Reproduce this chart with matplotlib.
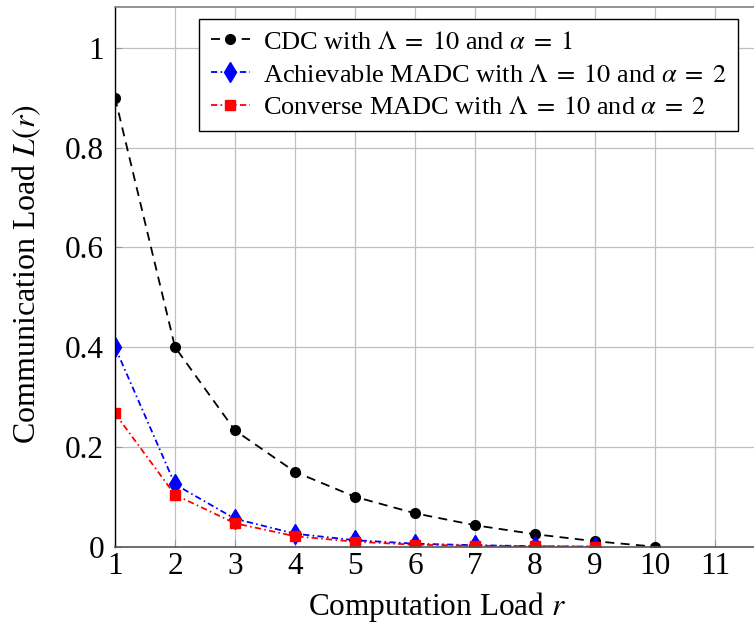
import matplotlib
matplotlib.use("Agg")
import matplotlib.pyplot as plt

# data
r_cdc = [1, 2, 3, 4, 5, 6, 7, 8, 9, 10]
L_cdc = [0.9, 0.4, 0.233, 0.15, 0.1, 0.067, 0.043, 0.025, 0.011, 0.0]

r_madc = [1, 2, 3, 4, 5, 6, 7, 8, 9]
L_ach = [0.4, 0.125, 0.056, 0.026, 0.013, 0.006, 0.003, 0.001, 0.0]
L_conv = [0.267, 0.104, 0.047, 0.021, 0.010, 0.004, 0.002, 0.001, 0.0]

labels = [r"CDC with $\Lambda\;=\;10$ and $\alpha\;=\;1$",
          r"Achievable MADC with $\Lambda\;=\;10$ and $\alpha\;=\;2$",
          r"Converse MADC with $\Lambda\;=\;10$ and $\alpha\;=\;2$"]

plt.rcParams['font.family'] = ['Liberation Serif', 'DejaVu Serif']
plt.rcParams['mathtext.fontset'] = 'stix'

fig = plt.figure(figsize=(7.54, 6.26), dpi=100)
# axes box measured in pixels from the reference
ax = fig.add_axes([115/754, 1 - 546.7/626, (754-115)/754, (546.7-7.3)/626])

ax.plot(r_cdc, L_cdc, color='black', linestyle=(0, (5, 3.5)), linewidth=1.3,
        marker='o', markersize=7, label=labels[0])
ax.plot(r_madc, L_ach, color='blue', linestyle=(0, (3.5, 1.8, 0.9, 1.8)), linewidth=1.3,
        marker='d', markersize=10, label=labels[1])
ax.plot(r_madc, L_conv, color='red', linestyle=(0, (3.5, 1.8, 0.9, 1.8)), linewidth=1.3,
        marker='s', markersize=6.5, label=labels[2])

ax.set_xlim(1, 11.65)
ax.set_ylim(0, 1.081)
ax.set_xticks(range(1, 12))
ax.set_yticks([0, 0.2, 0.4, 0.6, 0.8, 1.0])
ax.set_yticklabels(['0', '0.2', '0.4', '0.6', '0.8', '1'])
ax.grid(True, color='#c0c0c0', linewidth=0.9)
ax.set_axisbelow(True)
ax.tick_params(direction='in', length=5, color='#999999', labelsize=22.5)
ax.tick_params(axis='x', pad=4)
ax.tick_params(axis='y', pad=8)

ax.spines['right'].set_visible(False)
ax.spines['top'].set_color('#808080')
ax.spines['top'].set_linewidth(1.2)
ax.spines['bottom'].set_color('#555555')
ax.spines['bottom'].set_linewidth(1.2)
ax.spines['left'].set_color('black')
ax.spines['left'].set_linewidth(1.0)
for s in ax.spines.values():
    s.set_zorder(3)

ax.set_xlabel(r"Computation Load $r$", fontsize=22.5)
ax.set_ylabel(r"Communication Load $L(r)$", fontsize=23)
ax.xaxis.set_label_coords(0.504, -0.08)
ax.yaxis.set_label_coords(-0.112, 0.506)

leg = ax.legend(loc='upper right', bbox_to_anchor=(738/754, 1 - 19/626),
                bbox_transform=fig.transFigure, borderaxespad=0, fontsize=19,
                fancybox=False, framealpha=1, edgecolor='black',
                handlelength=1.5, handletextpad=0.5, labelspacing=0.36,
                borderpad=0.42)
leg.get_frame().set_linewidth(1.0)

plt.savefig('out.png', dpi=100)
